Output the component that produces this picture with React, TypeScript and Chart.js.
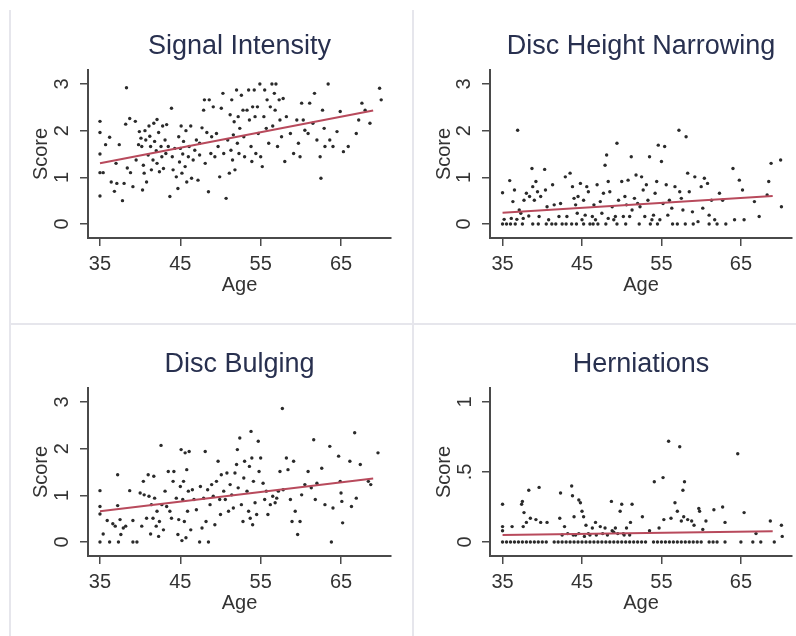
import React, { useEffect, useRef } from "react";
import { Chart, registerables } from "chart.js";

Chart.register(...registerables);

// ---------- data ----------
const ageTicks = [35, 45, 55, 65];
const scoreTicks3 = [0, 1, 2, 3];
const scoreTickLabels3 = ["0", "1", "2", "3"];
const scoreTicks1 = [0, 0.5, 1];
const scoreTickLabels1 = ["0", ".5", "1"];

const titles = ["Signal Intensity", "Disc Height Narrowing", "Disc Bulging", "Herniations"];

const signalIntensity: [number, number][] = [
  [35,2.2],[35,1.96],[35,1.5],[35,0.6],[35,1.1],[35.7,1.7],[35.4,1.1],[36.2,1.86],[36.4,0.9],[37,1.3],[36.8,0.7],[37.1,0.87],[37.4,1.7],[37.8,0.5],[38,0.87],[38.3,2.92],[38.2,2.14],[38.4,1.2],[38.7,2.26],[38.8,1.1],[39.1,0.8],[39.4,2.2],[39.5,1.37],[39.8,1.7],[39.9,1.98],[40.1,1.84],[40.2,1.66],[40.3,0.73],[40.4,1.26],[40.5,1.09],[40.6,2.0],[40.7,1.8],[40.8,0.9],[41,1.48],[41.1,2.1],[41.2,1.88],[41.3,1.66],[41.4,1.16],[41.6,1.37],[41.7,2.16],[41.8,1.77],[42,1.57],[42.1,2.24],[42.1,1.3],[42.3,1.96],[42.4,1.12],[42.6,1.66],[42.7,1.44],[42.8,2.1],[42.9,1.19],[43.1,1.8],[43.2,1.51],[43.3,2.13],[43.5,1.66],[43.7,0.59],[43.9,2.48],[44,1.44],[44.1,1.16],[44.3,1.62],[44.5,1.01],[44.7,0.76],[44.8,1.87],[44.9,1.33],[45,1.62],[45.1,2.1],[45.2,1.09],[45.3,1.5],[45.4,1.77],[45.6,1.23],[45.7,2.0],[45.8,0.9],[46,1.44],[46.1,1.66],[46.3,2.1],[46.4,0.98],[46.6,1.37],[46.8,1.58],[47,1.8],[47.2,0.94],[47.4,1.48],[47.4,1.73],[47.7,2.06],[47.9,2.44],[48,2.66],[48.1,1.3],[48.3,1.96],[48.5,0.69],[48.6,2.66],[48.8,1.51],[48.9,1.87],[49.1,2.51],[49.3,1.44],[49.5,1.94],[49.7,1.66],[49.9,1.01],[50.1,2.48],[50.3,2.8],[50.4,1.51],[50.7,0.55],[50.9,1.8],[51.1,1.09],[51.2,2.34],[51.3,1.58],[51.4,2.66],[51.5,1.37],[51.6,1.91],[51.7,2.19],[51.8,1.16],[52,2.87],[52.1,1.73],[52.2,2.3],[52.3,1.51],[52.4,2.05],[52.6,2.76],[52.8,2.44],[52.9,1.87],[53,1.44],[53.3,2.44],[53.5,2.87],[53.6,2.23],[53.8,1.66],[53.9,1.34],[54,2.51],[54.2,2.87],[54.3,2.3],[54.4,1.51],[54.6,2.51],[54.7,1.94],[54.9,3],[55,1.44],[55.2,1.23],[55.4,2.3],[55.5,2.87],[55.7,2.05],[55.8,2.66],[56,1.73],[56.2,2.51],[56.4,3],[56.5,2.1],[56.7,2.8],[56.8,2.44],[56.9,3],[57.1,1.66],[57.3,2.66],[57.4,2.23],[57.6,1.87],[57.8,2.69],[58,1.34],[58.2,2.3],[58.7,1.94],[59.1,1.51],[59.5,2.23],[59.7,1.73],[59.9,1.44],[60.1,2.59],[60.3,2.23],[60.5,2.01],[60.9,1.94],[61.1,2.59],[61.5,2.16],[61.7,2.8],[62,1.8],[62.4,1.44],[62.5,0.98],[62.7,2.44],[62.9,2.05],[63,1.66],[63.4,3],[63.6,1.8],[64,1.66],[64.5,1.98],[64.9,2.41],[65.3,1.55],[65.9,1.66],[66.9,1.94],[67.2,2.23],[67.6,2.59],[68,2.44],[68.6,2.16],[69.8,2.91],[70,2.66]
];
const signalIntensityFit: [number, number][] = [[35, 1.3], [69, 2.43]];

const discHeight: [number, number][] = [
  [35,0.67],[35.9,0.93],[36.3,0.48],[36.5,0.73],[36.9,2.01],[37.1,0.3],[37.3,0.23],[37.7,0.51],[38,0.66],[38.3,0.17],[38.4,0.59],[38.7,1.19],[38.8,0.8],[39,0.51],[39.2,0.91],[39.4,0.69],[39.6,0.16],[39.8,0.59],[40.3,1.17],[40.4,0.73],[40.6,0.37],[40.8,0.09],[41.3,0.84],[41.5,0.41],[42.1,0.16],[42.3,0.44],[42.9,1.01],[43.1,0.16],[43.5,1.09],[43.8,0.8],[44,0.55],[44.2,0.41],[44.4,0.23],[44.5,0.59],[44.8,0.87],[45,0.09],[45.2,0.51],[45.4,0.19],[45.6,0.8],[45.8,0.69],[46.3,0.16],[46.5,0.41],[46.7,0.09],[46.9,0.84],[47.3,0.48],[47.5,0.23],[47.7,0.66],[47.9,1.26],[48.1,1.48],[48.3,0.91],[48.3,0.12],[48.5,0.69],[48.8,0.37],[49,0.09],[49.2,0.16],[49.4,1.73],[49.6,0.51],[50,0.91],[50.2,0.16],[50.4,0.59],[50.6,0.41],[50.8,0.94],[51,0.16],[51.2,1.44],[51.3,0.3],[51.6,0.55],[51.8,1.05],[52,0.44],[52.3,0.37],[52.5,1.01],[52.7,0.73],[52.9,0.16],[53.1,0.84],[53.3,0.51],[53.5,1.44],[53.8,0.09],[54,0.19],[54.2,0.66],[54.4,0.91],[54.6,1.69],[54.8,0.09],[55,1.34],[55.2,0.44],[55.4,1.66],[55.6,0.84],[55.8,0.19],[56,0.51],[56.3,0.34],[56.7,0.8],[57,0],[57.2,2.01],[57.3,0.69],[57.5,0.55],[57.7,0.3],[58.1,1.87],[58.3,1.09],[58.5,0.69],[58.9,0.26],[59.2,1.01],[59.6,0.05],[60,0.8],[60.2,0.34],[60.4,0.98],[60.8,0.87],[61,0.19],[61.3,0.51],[61.7,0.09],[62.3,0.66],[62.7,0.51],[63.1,0],[64,1.19],[64.2,0.09],[64.8,0.94],[65.2,0.73],[65.4,0.09],[66.7,0.48],[67.3,0.16],[68.3,0.62],[68.5,0.91],[68.8,1.3],[70,1.37],[70.1,0.37],
  [35,0],[35.5,0],[36,0],[36.6,0],[37.5,0],[38.8,0],[39.5,0],[40.5,0],[41.2,0],[41.7,0],[42.5,0],[43,0],[43.7,0],[44.3,0],[45.2,0],[46,0],[46.4,0],[47,0],[48,0],[49.4,0],[50.5,0],[52.2,0],[53.6,0],[54.5,0],[56.4,0],[58,0],[59,0],[61,0],[62,0],
  [35.2,0.1],[36.1,0.12],[36.8,0.1],[37.6,0.12]
];
const discHeightFit: [number, number][] = [[35, 0.24], [69, 0.6]];

const discBulging: [number, number][] = [
  [35,1.1],[35,0.76],[35,0.6],[35,0],[35.4,0.17],[35.9,0.46],[36.2,0],[36.6,0.39],[36.9,0.34],[37.2,1.44],[37.2,0.78],[37.3,0],[37.5,0.48],[37.6,0.16],[37.9,0.3],[38.2,0.34],[38.7,1.1],[39.1,0],[39.1,0.46],[39.6,0],[40,1.05],[40.2,0.34],[40.4,1.3],[40.5,1.01],[40.8,0.51],[41,1.44],[41.1,0.98],[41.3,0.17],[41.4,0.8],[41.6,0.51],[41.7,1.41],[41.8,0.94],[42,0.34],[42.1,0.66],[42.3,0.12],[42.4,0.44],[42.6,2.07],[42.7,0.8],[42.9,0.26],[43.1,1.09],[43.3,0.76],[43.5,1.51],[43.7,0.66],[43.9,0.51],[44.1,1.3],[44.2,1.51],[44.5,0.94],[44.7,0.16],[44.8,0.48],[45,1.19],[45.1,1.98],[45.2,0.03],[45.3,0.91],[45.4,1.3],[45.5,0.44],[45.6,1.91],[45.7,0.09],[45.8,1.55],[45.9,0.66],[46,1.09],[46.1,1.94],[46.3,0.26],[46.5,1.12],[46.7,0.91],[47,0.69],[47.4,0],[47.5,1.19],[47.7,0.3],[47.9,0.94],[48.1,1.94],[48.2,0.44],[48.4,1.12],[48.5,0],[48.7,0.8],[48.9,1.23],[49.1,0.98],[49.3,0.37],[49.5,1.3],[49.7,1.73],[49.9,0.91],[50,0.59],[50.1,1.44],[50.4,1.09],[50.6,0.91],[50.8,1.48],[51,0.66],[51.2,1.23],[51.4,1.01],[51.6,0.73],[51.8,1.48],[52,1.66],[52.1,1.98],[52.2,1.16],[52.4,2.23],[52.6,0.8],[52.8,0.44],[52.9,1.37],[53,1.73],[53.3,1.09],[53.5,0.66],[53.6,1.62],[53.7,0.51],[53.8,2.37],[53.9,1.8],[54,0.37],[54.1,1.3],[54.3,0.84],[54.5,0.59],[54.7,2.16],[54.8,1.51],[55,1.8],[55.3,1.26],[55.5,0.91],[55.7,1.09],[55.9,0.59],[56.2,0.8],[56.5,0.98],[56.8,0.84],[57,0.94],[57.2,1.09],[57.4,1.51],[57.7,2.86],[57.8,1.12],[58.2,1.8],[58.4,1.55],[58.7,0.91],[58.9,0.44],[59.1,1.73],[59.3,0.66],[59.6,0.16],[59.9,0.44],[60.1,1.01],[60.5,1.23],[60.9,1.51],[61.3,1.16],[61.6,2.19],[61.8,0.91],[62,1.26],[62.6,1.58],[63,0.8],[63.6,2.05],[63.8,0],[64,0.73],[64.7,1.84],[64.9,1.3],[65,1.05],[65.1,0.87],[65.2,0.41],[66.1,1.73],[66.3,0.76],[66.7,2.34],[66.9,0.94],[67.4,1.66],[68.4,1.3],[68.7,1.23],[69.6,1.91]
];
const discBulgingFit: [number, number][] = [[35, 0.66], [69, 1.36]];

const herniations: [number, number][] = [
  [35,0.27],[35,0.11],[35,0.08],[35,0],[36.2,0.11],[37.4,0.27],[37.5,0.29],[37.6,0.11],[37.7,0.21],[38,0.14],[38.3,0.37],[38.5,0.17],[39.2,0.16],[39.6,0.39],[39.8,0.14],[40.6,0.14],[42.2,0.17],[42.3,0.35],[42.8,0.11],[43.7,0.4],[43.8,0.33],[44,0.18],[44.2,0.05],[44.6,0.3],[44.8,0.28],[45,0.22],[45.2,0.18],[45.5,0.12],[45.8,0.06],[46.3,0.1],[46.7,0.14],[47.3,0.11],[47.9,0.1],[48.7,0.29],[48.8,0.08],[49.2,0.1],[49.8,0.22],[50,0.27],[50.2,0.06],[50.6,0.1],[51.3,0.27],[51.1,0.14],[52.6,0.18],[53.5,0.08],[54.1,0.43],[54.7,0.1],[55.2,0.46],[55.3,0.16],[55.9,0.72],[56.2,0.17],[56.7,0.28],[57,0.22],[57.3,0.68],[57.5,0.15],[57.7,0.37],[57.9,0.43],[57.8,0.18],[58.3,0.16],[58.8,0.15],[59.1,0.12],[59.7,0.24],[59.8,0.22],[60.2,0.09],[60.6,0.15],[61.6,0.23],[62.7,0.25],[63,0.14],[64.6,0.63],[65.4,0.21],[66.9,0.06],[68.7,0.15],[69.2,0],[70.1,0.12],[70.2,0.04],
  [35.5,0],[36,0],[36.5,0],[37,0],[37.5,0],[38,0],[38.5,0],[39,0],[39.5,0],[40,0],[40.5,0],[41.5,0],[42,0],[42.5,0],[43,0],[43.5,0],[44,0],[44.5,0],[45,0],[45.5,0],[46,0],[46.5,0],[47,0],[47.5,0],[48,0],[48.5,0],[49,0],[49.5,0],[50,0],[50.5,0],[51,0],[51.5,0],[52,0],[52.5,0],[53,0],[54,0],[54.5,0],[55,0],[55.5,0],[56,0],[56.5,0],[57,0],[57.5,0],[58,0],[58.5,0],[59,0],[59.5,0],[60,0],[61,0],[61.5,0],[62,0],[63,0],[65,0],[66.5,0],[67.5,0],
  [42.5,0.05],[43.2,0.06],[43.9,0.05],[44.6,0.06],[45.3,0.04],[46,0.05],[46.8,0.05],[47.6,0.06],[48.2,0.05],[49,0.07],[49.5,0.06],[50.3,0.05],[51,0.05]
];
const herniationsFit: [number, number][] = [[35, 0.05], [69, 0.076]];

// ---------- styling ----------
const FONT = "'Liberation Sans', Arial, Helvetica, sans-serif";
const TITLE_COLOR = "#28304f";
const TEXT_COLOR = "#333333";
const AXIS_COLOR = "#4a4a4a";
const POINT_COLOR = "#2a2a2a";
const FIT_COLOR = "#b84a5c";

type PanelProps = {
  title: string;
  points: [number, number][];
  fit: [number, number][];
  yTicks: number[];
  yLabels: string[];
  yMin: number;
  yMax: number;
  yTickPad: number;
  xMin: number;
  xMax: number;
  yAxisWidth: number;
  yTitlePad: number;
  rightPad: number;
  left: number;
  top: number;
  width: number;
  height: number;
};

function Panel(p: PanelProps) {
  const ref = useRef<HTMLCanvasElement | null>(null);
  useEffect(() => {
    if (!ref.current) return;
    const chart = new Chart(ref.current, {
      type: "scatter",
      data: {
        datasets: [
          {
            data: p.points.map(([x, y]) => ({ x, y })),
            pointRadius: 1.7,
            pointBackgroundColor: POINT_COLOR,
            pointBorderWidth: 0,
            order: 2,
          },
          {
            data: p.fit.map(([x, y]) => ({ x, y })),
            showLine: true,
            borderColor: FIT_COLOR,
            borderWidth: 2,
            pointRadius: 0,
            fill: false,
            order: 1,
          },
        ],
      },
      options: {
        responsive: false,
        animation: false,
        devicePixelRatio: 1,
        layout: { padding: { left: 0, right: p.rightPad, top: 0, bottom: 0 } },
        plugins: {
          legend: { display: false },
          tooltip: { enabled: false },
          title: {
            display: true,
            text: p.title,
            fullSize: false,
            color: TITLE_COLOR,
            font: { family: FONT, size: 27, weight: "normal" },
            padding: { top: 30.4, bottom: 7.2 },
          },
        },
        scales: {
          x: {
            type: "linear",
            min: p.xMin,
            max: p.xMax,
            afterBuildTicks: (s: any) => {
              s.ticks = ageTicks.map((v) => ({ value: v }));
            },
            afterFit: (s: any) => {
              s.height = 80;
            },
            grid: { drawOnChartArea: false, drawTicks: true, tickLength: 8, color: AXIS_COLOR, lineWidth: 1.5 },
            border: { display: true, color: AXIS_COLOR, width: 2 },
            ticks: { color: TEXT_COLOR, font: { family: FONT, size: 20 }, padding: 6, maxRotation: 0, autoSkip: false },
            title: { display: true, text: "Age", color: TEXT_COLOR, font: { family: FONT, size: 20 }, padding: { top: 0, bottom: 21 } },
          },
          y: {
            type: "linear",
            min: p.yMin,
            max: p.yMax,
            afterBuildTicks: (s: any) => {
              s.ticks = p.yTicks.map((v) => ({ value: v }));
            },
            afterFit: (s: any) => {
              s.width = p.yAxisWidth;
            },
            grid: { drawOnChartArea: false, drawTicks: true, tickLength: 8, color: AXIS_COLOR, lineWidth: 1.5 },
            border: { display: true, color: AXIS_COLOR, width: 2 },
            ticks: {
              color: TEXT_COLOR,
              font: { family: FONT, size: 20 },
              padding: p.yTickPad,
              minRotation: 90,
              maxRotation: 90,
              crossAlign: "center",
              autoSkip: false,
              callback: (v: any) => {
                const i = p.yTicks.indexOf(Number(v));
                return i >= 0 ? p.yLabels[i] : "";
              },
            },
            title: { display: true, text: "Score", color: TEXT_COLOR, font: { family: FONT, size: 20 }, padding: { top: p.yTitlePad, bottom: 0 } },
          },
        },
      } as any,
    });
    return () => chart.destroy();
  }, []);
  return (
    <canvas
      ref={ref}
      width={p.width}
      height={p.height}
      style={{ position: "absolute", left: p.left, top: p.top, width: p.width, height: p.height }}
    />
  );
}

export default function App() {
  const leftCol = { left: 0, width: 413, yAxisWidth: 88, yTitlePad: 29, rightPad: 22, xMin: 33.51, xMax: 71.22 };
  const rightCol = { left: 413, width: 383, yAxisWidth: 77, yTitlePad: 19, rightPad: 0, xMin: 33.42, xMax: 71.43 };
  return (
    <div style={{ position: "fixed", left: 0, top: 0, width: 796, height: 636, background: "#ffffff", overflow: "hidden" }}>
      <Panel title={titles[0]} points={signalIntensity} fit={signalIntensityFit} yTicks={scoreTicks3} yLabels={scoreTickLabels3} yMin={-0.3} yMax={3.3} yTickPad={12} top={0} height={318} {...leftCol} />
      <Panel title={titles[1]} points={discHeight} fit={discHeightFit} yTicks={scoreTicks3} yLabels={scoreTickLabels3} yMin={-0.3} yMax={3.3} yTickPad={12} top={0} height={318} {...rightCol} />
      <Panel title={titles[2]} points={discBulging} fit={discBulgingFit} yTicks={scoreTicks3} yLabels={scoreTickLabels3} yMin={-0.3} yMax={3.3} yTickPad={12} top={318} height={318} {...leftCol} />
      <Panel title={titles[3]} points={herniations} fit={herniationsFit} yTicks={scoreTicks1} yLabels={scoreTickLabels1} yMin={-0.1} yMax={1.1} yTickPad={8} top={318} height={318} {...rightCol} />
      <div style={{ position: "absolute", left: 9, top: 10, width: 2, height: 626, background: "#e6e6ec" }} />
      <div style={{ position: "absolute", left: 412, top: 10, width: 2, height: 626, background: "#e6e6ec" }} />
      <div style={{ position: "absolute", left: 9, top: 323, width: 787, height: 2, background: "#e6e6ec" }} />
    </div>
  );
}
